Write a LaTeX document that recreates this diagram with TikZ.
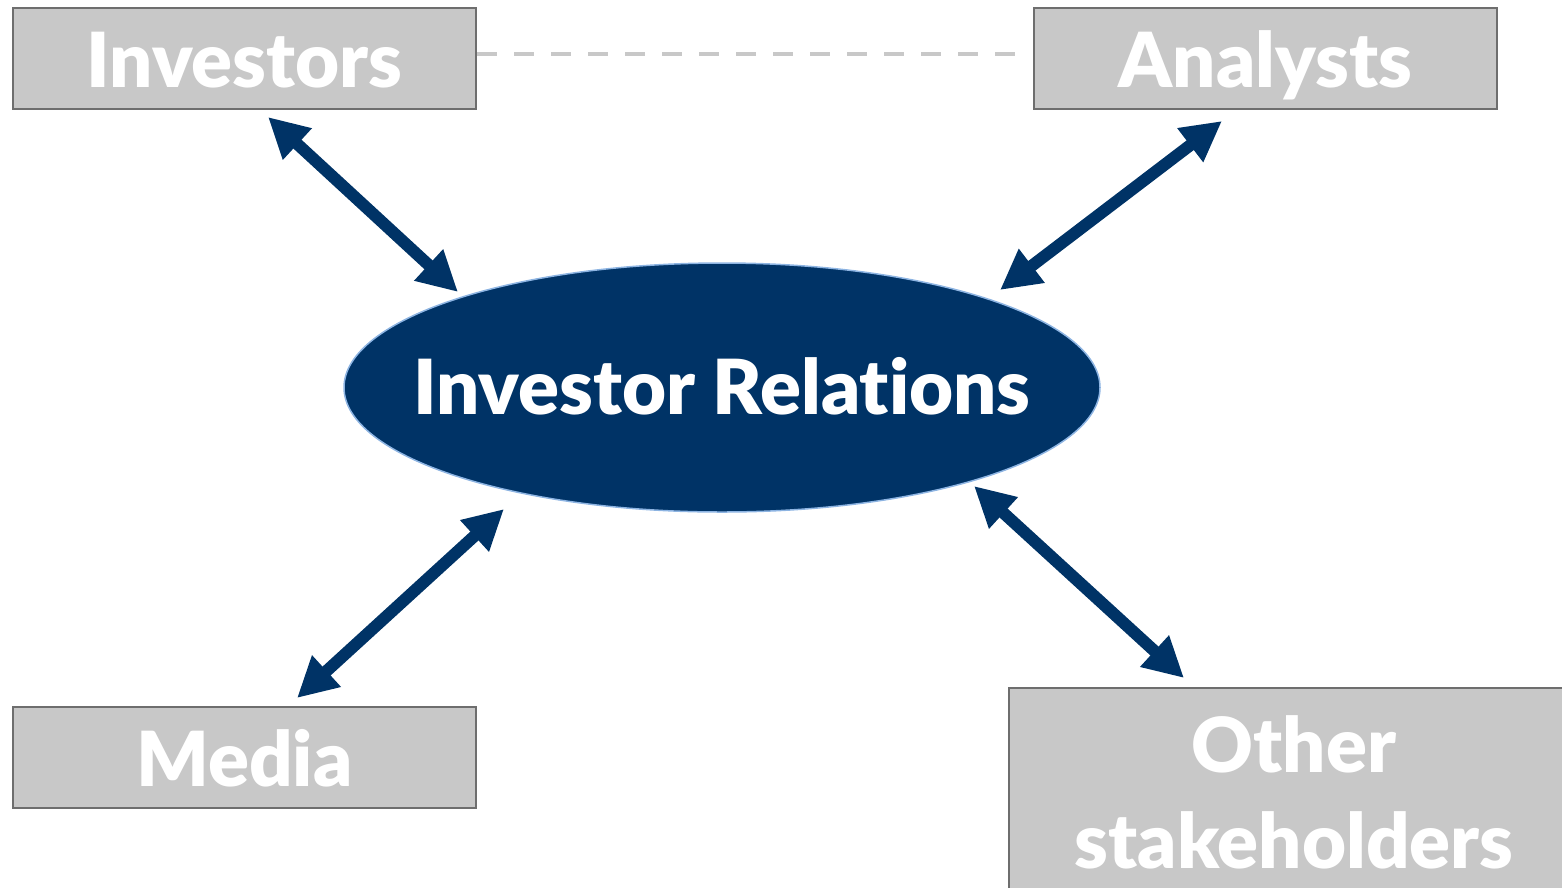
\documentclass[tikz,border=0pt]{standalone}
\usepackage{fontspec}
\setmainfont{Lato}[UprightFont=* Black, Ligatures={NoCommon}]
\usetikzlibrary{arrows.meta,shapes.geometric}
\definecolor{navy}{RGB}{0,51,102}
\definecolor{boxgray}{RGB}{200,200,200}
\definecolor{boxline}{RGB}{110,110,110}
\definecolor{rim}{RGB}{141,180,226}
\tikzset{
  party/.style={draw=boxline, line width=2pt, fill=boxgray, inner sep=0pt,
    text=white, font=\fontsize{76}{90}\selectfont, align=center},
  oneline/.style={text height=57pt, text depth=0pt},
  link/.style={draw=navy, line width=12pt,
    {Triangle[length=40pt,width=40pt]}-{Triangle[length=40pt,width=40pt]}},
}
\begin{document}
\begin{tikzpicture}[x=1pt,y=-1pt]
\useasboundingbox (0,0) rectangle (1562,887);

% stakeholder boxes (the last one runs off the page edge)
\node[party, oneline, minimum width=463pt, minimum height=101pt] (inv) at (244.5,58.5) {Investors};
\node[party, oneline, minimum width=463pt, minimum height=101pt] (ana) at (1265.5,58.5) {Analysts};
\node[party, oneline, minimum width=463pt, minimum height=101pt] (med) at (244.5,757.5) {Media};
\node[party, minimum width=570pt, minimum height=208pt] (oth) at (1294,792) {Other\\[6pt]stakeholders};

% central ellipse
\node[ellipse, fill=navy, draw=rim, line width=1.5pt, minimum width=756pt,
  minimum height=249pt, inner sep=0pt, text=white, text height=53pt, text depth=0pt,
  font=\fontsize{76}{90}\selectfont] (ir) at (722,387.5) {\makebox[0pt]{Investor Relations}};

% dashed link between investors and analysts
\draw[boxgray, line width=4pt, dash pattern=on 20pt off 17pt, shorten >=12pt]
  (inv.east |- 0,54) -- (ana.west |- 0,54);

% arrow end points
\coordinate (invA) at (268,117);
\coordinate (invB) at (458,292);
\coordinate (anaA) at (1222,121);
\coordinate (anaB) at (1000,290);
\coordinate (medA) at (504,509);
\coordinate (medB) at (297,698);
\coordinate (othA) at (974,486);
\coordinate (othB) at (1184,678);

\draw[link] (invA) -- (invB);
\draw[link] (anaA) -- (anaB);
\draw[link] (medA) -- (medB);
\draw[link] (othA) -- (othB);
\end{tikzpicture}
\end{document}
